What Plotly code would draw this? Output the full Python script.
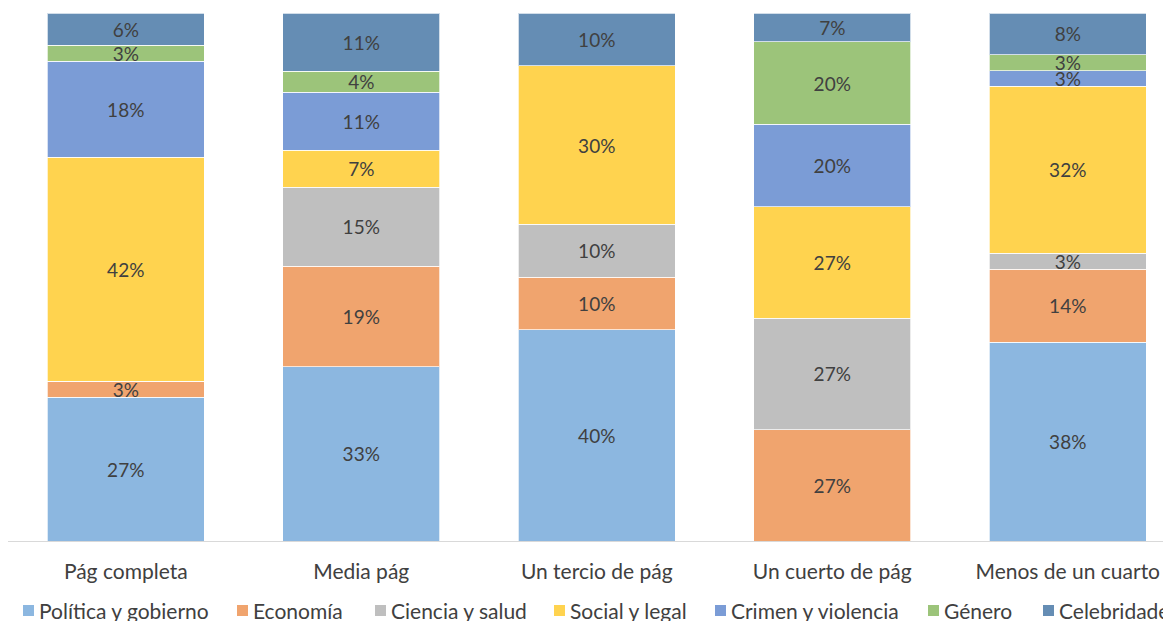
import plotly.graph_objects as go

categories = ["Pág completa", "Media pág", "Un tercio de pág", "Un cuerto de pág", "Menos de un cuarto"]
series_names = ["Política y gobierno", "Economía", "Ciencia y salud", "Social y legal",
                "Crimen y violencia", "Género", "Celebridades"]
politica = [27, 33, 40, 0, 38]
economia = [3, 19, 10, 27, 14]
ciencia = [0, 15, 10, 27, 3]
social = [42, 7, 30, 27, 32]
crimen = [18, 11, 0, 20, 3]
genero = [3, 4, 0, 20, 3]
celebridades = [6, 11, 10, 7, 8]
series_values = [politica, economia, ciencia, social, crimen, genero, celebridades]

colors = ["#8CB7E0", "#F0A46E", "#BFBFBF", "#FFD34F", "#7B9CD6", "#9CC47A", "#658DB4"]

FONT = "Lato, 'Open Sans', sans-serif"
TXT = "#404040"

# the page body has an 8px margin: work in page pixels and subtract it
OFF = 8
W, H = 1171, 621
plot_left, plot_top, plot_bottom = 8, 13, 541   # page pixels of the reference plot area
ML = plot_left - OFF
MT = plot_top - OFF
MB = H - (plot_bottom - OFF)
MR = 0
PW = W - ML - MR
PH = H - MT - MB

fig = go.Figure()
for name, vals, col in zip(series_names, series_values, colors):
    fig.add_trace(go.Bar(
        x=categories, y=vals, name=name,
        marker=dict(color=col, line=dict(color="rgba(255,255,255,0.7)", width=1)),
        text=[f"{v}%" if v else "" for v in vals],
        textposition="inside", insidetextanchor="middle",
        textfont=dict(family=FONT, size=19, color=TXT),
        showlegend=False,
    ))

cat_px = 235.5
xmax = PW / cat_px - 0.5

fig.update_layout(
    width=W, height=H,
    margin=dict(l=ML, r=MR, t=MT, b=MB),
    barmode="stack", barnorm="percent", bargap=0.333,
    plot_bgcolor="white", paper_bgcolor="white",
    uniformtext=dict(minsize=19, mode="show"),
    font=dict(family=FONT, color=TXT),
    xaxis=dict(range=[-0.5, xmax], showline=True, linecolor="#D9D9D9", linewidth=1,
               showgrid=False, zeroline=False, ticks="outside", ticklen=12,
               tickcolor="rgba(0,0,0,0)", tickfont=dict(family=FONT, size=21, color=TXT)),
    yaxis=dict(range=[0, 100], visible=False, showgrid=False, zeroline=False),
)

# legend drawn manually (single row, cropped at right like the reference); page pixels
legend_marker_px = [23, 237, 375, 554, 715, 928, 1043]
marker_top, marker_bot, text_mid = 605, 616, 610
fb = plot_bottom - OFF  # plot bottom in figure px
for name, col, mx in zip(series_names, colors, legend_marker_px):
    fx = mx - OFF
    fig.add_shape(type="rect", xref="paper", yref="paper",
                  x0=(fx - ML) / PW, x1=(fx + 11 - ML) / PW,
                  y0=(fb - (marker_bot - OFF)) / PH, y1=(fb - (marker_top - OFF)) / PH,
                  fillcolor=col, line=dict(width=0))
    fig.add_annotation(text=name, xref="paper", yref="paper",
                       x=(fx + 14 - ML) / PW, y=(fb - (text_mid - OFF)) / PH,
                       xanchor="left", yanchor="middle", showarrow=False,
                       font=dict(family=FONT, size=21, color=TXT))

fig.write_html("out.html")
